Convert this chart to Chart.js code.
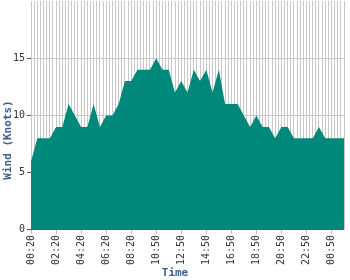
<!DOCTYPE html>
<html>
<head>
<meta charset="utf-8">
<script src="https://cdn.jsdelivr.net/npm/chart.js@4/dist/chart.umd.min.js"></script>
<style>
  html, body { margin: 0; padding: 0; background: #ffffff; }
  #wrap { width: 350px; height: 280px; }
</style>
</head>
<body>
<div id="wrap"><canvas id="c" width="350" height="280"></canvas></div>
<script>
const categories = ['00:20','00:50','01:20','01:50','02:20','02:50','03:20','03:50','04:20','04:50',
  '05:20','05:50','06:20','06:50','07:20','07:50','08:20','08:50','09:20','09:50',
  '10:50','11:20','11:50','12:20','12:50','13:20','13:50','14:20','14:50','15:20',
  '15:50','16:20','16:50','17:20','17:50','18:20','18:50','19:20','19:50','20:20',
  '20:50','21:20','21:50','22:20','22:50','23:20','23:50','00:20','00:50','01:20','01:50'];
const windKnots = [6,8,8,8,9,9,11,10,9,9,
  11,9,10,10,11,13,13,14,14,14,
  15,14,14,12,13,12,14,13,14,12,
  14,11,11,11,10,9,10,9,9,8,
  9,9,8,8,8,8,9,8,8,8,8];
const yTicks = [0, 5, 10, 15];
const labelEvery = 4;
const xTitle = 'Time';
const yTitle = 'Wind (Knots)';

const monoFont = "'DejaVu Sans Mono', monospace";
const titleColor = '#3e6089';
const gridColor = '#c8c8c8';

// Axis titles centred on the canvas, as in the reference
const axisTitles = {
  id: 'axisTitles',
  afterDraw(chart) {
    const ctx = chart.ctx;
    ctx.save();
    ctx.fillStyle = titleColor;
    ctx.font = "bold 11px " + monoFont;
    ctx.textAlign = 'center';
    ctx.textBaseline = 'middle';
    ctx.fillText(xTitle, chart.width / 2, chart.height - 7);
    ctx.translate(8, chart.height / 2);
    ctx.rotate(-Math.PI / 2);
    ctx.fillText(yTitle, 0, 0);
    ctx.restore();
  }
};

new Chart(document.getElementById('c'), {
  type: 'line',
  data: {
    labels: categories,
    datasets: [{
      data: windKnots,
      xAxisID: 'x',
      yAxisID: 'y',
      fill: 'origin',
      backgroundColor: '#00897b',
      borderColor: '#00897b',
      borderWidth: 0,
      pointRadius: 0,
      tension: 0
    }]
  },
  plugins: [axisTitles],
  options: {
    responsive: false,
    animation: false,
    plugins: { legend: { display: false }, tooltip: { enabled: false } },
    layout: { padding: { top: 1, right: 6, bottom: 14, left: 11 } },
    scales: {
      x: {
        type: 'category',
        offset: false,
        border: { display: false },
        afterFit: (s) => { s.paddingRight = 0; s.paddingLeft = 0; },
        grid: {
          drawOnChartArea: false,
          tickLength: 4,
          tickColor: (ctx) => (ctx.index % labelEvery === 0 ? '#bbbbbb' : 'rgba(0,0,0,0)')
        },
        ticks: {
          autoSkip: false,
          minRotation: 90,
          maxRotation: 90,
          padding: 1,
          color: '#333333',
          font: { family: monoFont, size: 10 },
          callback: function (v, i) { return i % labelEvery === 0 ? this.getLabelForValue(v) : ''; }
        }
      },
      xgrid: {
        type: 'linear',
        position: 'top',
        min: 0,
        max: categories.length - 1,
        border: { display: false },
        grid: { color: gridColor, drawTicks: false },
        ticks: { display: false, stepSize: 0.5, maxTicksLimit: 1000 }
      },
      y: {
        min: 0,
        max: 20,
        border: { color: gridColor },
        afterBuildTicks: (s) => { s.ticks = yTicks.map(v => ({ value: v })); },
        afterFit: (s) => { s.paddingTop = 0; },
        grid: { color: gridColor, tickLength: 4, tickColor: '#555555' },
        ticks: {
          padding: 2,
          color: '#333333',
          font: { family: monoFont, size: 10 }
        }
      }
    }
  }
});
</script>
</body>
</html>
